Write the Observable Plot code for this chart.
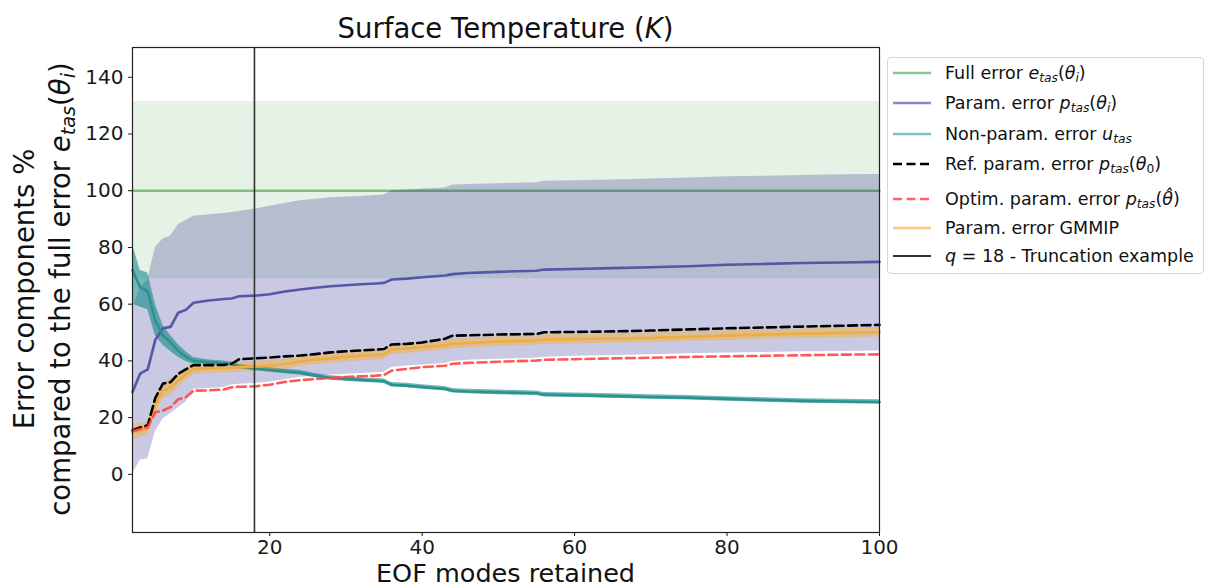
<!DOCTYPE html>
<html><head><meta charset="utf-8">
<script src="https://cdn.jsdelivr.net/npm/d3@7"></script>
<script src="https://cdn.jsdelivr.net/npm/@observablehq/plot@0.6"></script>
<style>
body{margin:0;background:#fff;font-family:"DejaVu Sans",sans-serif;color:#111}
#wrap{position:relative;width:1212px;height:588px;overflow:hidden;background:#fff}
#wrap svg.plot{position:absolute;left:0;top:0}
.s{font-size:70%;vertical-align:-0.28em;line-height:0}
#title{position:absolute;left:132px;width:747px;top:15px;text-align:center;font-size:27.5px;line-height:27.5px;white-space:nowrap}
#xlab{position:absolute;left:132px;width:747px;top:561.8px;text-align:center;font-size:25.5px;line-height:23px;white-space:nowrap}
#ylab{position:absolute;left:6px;top:539px;width:500px;transform:rotate(-90deg);transform-origin:0 0;text-align:center;font-size:27.5px;line-height:36px;white-space:nowrap}
#legend{position:absolute;left:887px;top:57px;width:317px;height:217px;box-sizing:border-box;border:1px solid #d6d6d6;border-radius:4px;background:#fff}
.row{position:absolute;left:5px;height:30px;display:flex;align-items:center;font-size:17.5px;white-space:nowrap}
.row svg{margin-right:14px;flex:none}
</style></head><body>
<div id="wrap"></div>
<script>
// EOF modes retained (x values)
const q = [2,3,4,5,6,7,8,9,10,12,14,15,16,18,20,22,24,26,28,30,32,34,35,36,38,40,43,44,46,50,55,56,60,65,70,75,80,85,90,95,100];
// Param. error p_tas(theta_i): mean and band
const paramMean = [29,35.5,37,47.5,51.5,52,57,58,60.5,61.3,61.8,62,62.8,63,63.5,64.5,65.2,65.8,66.3,66.7,67,67.3,67.5,68.7,69,69.5,70.1,70.6,71,71.4,71.8,72.2,72.4,72.7,73,73.4,73.9,74.2,74.5,74.7,74.9];
const paramLo = [0,5,5.5,15,19.5,21.5,23.5,25.5,30,30.3,30.6,31.5,31.8,32,32.6,33.4,34.2,34.6,35,35.3,35.6,35.8,36,37.7,38.2,38.6,39.1,39.8,40.2,40.6,40.9,41.3,41.6,41.9,42.2,42.5,42.8,43,43.2,43.3,43.5];
const paramHi = [58,66,68.5,80,83,84,88,89.5,91,91.5,92,92.3,92.7,93.5,94.5,95.5,96.5,97,97.5,97.8,98,98.3,98.5,100,100.3,100.6,101,102,102.2,102.5,102.8,103.3,103.5,103.8,104.1,104.5,104.9,105.1,105.4,105.6,105.7];
// Non-param. error u_tas
const uMean = [72,66,64.5,54,49,46.5,43.5,41.5,40,39.5,39.2,38.8,38,37.3,36.8,36.3,35.8,34.8,34,33.6,33.3,33,32.8,31.6,31.3,30.8,30.2,29.5,29.2,28.9,28.6,28.1,27.9,27.6,27.3,27,26.6,26.2,25.9,25.7,25.5];
const uLo = [60,59,58,49,45.5,43.3,41.3,39.8,38.8,38.7,38.4,38,37.2,36.5,36,35.5,35,34,33.2,32.8,32.5,32.2,32,30.8,30.5,30,29.4,28.7,28.4,28.1,27.8,27.3,27.1,26.8,26.5,26.2,25.8,25.4,25.1,24.9,24.7];
const uHi = [81,72,71,60,52.5,49,45.8,43.2,41.2,40.3,40,39.6,38.8,38.1,37.6,37.1,36.6,35.6,34.8,34.4,34.1,33.8,33.6,32.4,32.1,31.6,31,30.3,30,29.7,29.4,28.9,28.7,28.4,28.1,27.8,27.4,27,26.7,26.5,26.3];
// Ref. param. error p_tas(theta_0)
const refErr = [15.6,16.5,17.3,27,32,32.5,35.4,37,38.5,38.5,38.6,39,40.6,40.9,41.2,41.6,41.9,42.4,43,43.4,43.7,44,44.2,45.8,46,46.5,47.8,48.9,49,49.3,49.5,50.1,50.2,50.4,50.7,51.1,51.5,51.8,52.1,52.4,52.7];
// Optim. param. error p_tas(theta_hat)
const optErr = [15.2,16,16.6,21.9,22.5,23.7,26.5,27.2,29.5,29.6,29.9,30.7,30.9,31,31.6,32.6,33.2,33.6,34,34.3,34.6,34.8,35,36.6,37.2,37.8,38.3,39,39.3,39.7,40.1,40.4,40.6,40.9,41.1,41.4,41.6,41.8,42,42.2,42.3];
// Param. error GMMIP
const gmmip = [14.8,15.5,16,24.5,29.5,30.7,33,35.3,37.2,37.3,37.5,37.6,37.8,38,38.4,38.9,39.8,40.5,40.9,41.4,41.8,42.1,42.3,44,44.4,44.9,45.5,46,46.3,46.8,47.2,47.5,47.7,47.9,48.1,48.5,48.9,49.3,49.6,49.9,50.1];
const gmmipLo = [12.3,13,13.5,21.5,26.5,27.9,30.5,33.1,35.2,35.5,35.7,35.8,36,36.2,36.6,37.1,38,38.7,39.1,39.6,40,40.3,40.5,42.2,42.6,43.1,43.8,44.3,44.6,45.1,45.5,45.8,46,46.2,46.4,46.8,47.2,47.6,47.9,48.2,48.4];
const gmmipHi = [17.3,18,18.5,27.5,32.5,33.5,35.5,37.5,39.2,39.1,39.3,39.4,39.6,39.8,40.2,40.7,41.6,42.3,42.7,43.2,43.6,43.9,44.1,45.8,46.2,46.7,47.2,47.7,48,48.5,48.9,49.2,49.4,49.6,49.8,50.2,50.6,51,51.3,51.6,51.8];
// Full error e_tas(theta_i)
const fullQ = [2,100];
const fullMean = [100,100];
const fullLo = [69,69];
const fullHi = [131.5,131.5];
// Truncation example
const truncQ = [18];
// Tick labels
const xTicks = [20,40,60,80,100];
const yTicks = [0,20,40,60,80,100,120,140];

const rows = q.map((v,i)=>({q:v, pm:paramMean[i], plo:paramLo[i], phi:paramHi[i], um:uMean[i], ulo:uLo[i], uhi:uHi[i], ref:refErr[i], opt:optErr[i], g:gmmip[i], glo:gmmipLo[i], ghi:gmmipHi[i]}));
const full = fullQ.map((v,i)=>({q:v, m:fullMean[i], lo:fullLo[i], hi:fullHi[i]}));

const chart = Plot.plot({
  width:1212, height:588,
  marginLeft:132, marginRight:333, marginTop:47, marginBottom:56,
  x:{domain:[2,100], label:null},
  y:{domain:[-20.5,150.5], label:null},
  style:{fontFamily:"DejaVu Sans", fontSize:"20px", color:"#1a1a1a", background:"white"},
  marks:[
    Plot.areaY(full, {x:"q", y1:"lo", y2:"hi", fill:"green", fillOpacity:0.1}),
    Plot.lineY(full, {x:"q", y:"m", stroke:"#008000", strokeOpacity:0.45, strokeWidth:2.6}),
    Plot.areaY(rows, {x:"q", y1:"plo", y2:"phi", fill:"#000080", fillOpacity:0.21}),
    Plot.areaY(rows, {x:"q", y1:"ulo", y2:"uhi", fill:"#008080", fillOpacity:0.55}),
    Plot.areaY(rows, {x:"q", y1:"glo", y2:"ghi", fill:"#ffa500", fillOpacity:0.35}),
    Plot.lineY(rows, {x:"q", y:"pm", stroke:"#5656a8", strokeWidth:2.6}),
    Plot.lineY(rows, {x:"q", y:"um", stroke:"#2b938d", strokeWidth:2.6}),
    Plot.lineY(rows, {x:"q", y:"g", stroke:"#f2ac3c", strokeWidth:2.6}),
    Plot.lineY(rows, {x:"q", y:"ref", stroke:"#000", strokeWidth:2.6, strokeDasharray:"9,4.5"}),
    Plot.lineY(rows, {x:"q", y:"opt", stroke:"#ff4646", strokeOpacity:0.9, strokeWidth:2.6, strokeDasharray:"9,4.5"}),
    Plot.ruleX(truncQ, {stroke:"#333", strokeWidth:1.6}),
    Plot.frame({stroke:"#222", strokeWidth:1.2}),
    Plot.axisX({ticks:xTicks, tickSize:4, tickPadding:3, label:null, fontSize:20}),
    Plot.axisY({ticks:yTicks, tickSize:4, tickPadding:5, label:null, fontSize:20})
  ]
});
chart.classList.add("plot");
const wrap = document.getElementById("wrap");
wrap.appendChild(chart);

const etas = '<i>e</i><span class="s"><i>tas</i></span>(<i>θ</i><span class="s"><i>i</i></span>)';
wrap.insertAdjacentHTML("beforeend",
  '<div id="title">Surface Temperature (<i>K</i>)</div>' +
  '<div id="xlab">EOF modes retained</div>' +
  '<div id="ylab">Error components %<br>compared to the full error ' + etas + '</div>');

const legendItems = [
  {c:"#8cc98c", d:null, w:2.6, t:'Full error ' + etas},
  {c:"#8686c6", d:null, w:2.6, t:'Param. error <i>p</i><span class="s"><i>tas</i></span>(<i>θ</i><span class="s"><i>i</i></span>)'},
  {c:"#7dc3bf", d:null, w:2.6, t:'Non-param. error <i>u</i><span class="s"><i>tas</i></span>'},
  {c:"#000", d:"9,4.5", w:2.6, t:'Ref. param. error <i>p</i><span class="s"><i>tas</i></span>(<i>θ</i><span class="s">0</span>)'},
  {c:"#ff6464", d:"9,4.5", w:2.6, t:'Optim. param. error <i>p</i><span class="s"><i>tas</i></span>(<i>θ̂</i>)'},
  {c:"#fdc97c", d:null, w:2.6, t:'Param. error GMMIP'},
  {c:"#333", d:null, w:2, t:'<i>q</i> = 18 - Truncation example'}
];
const rowCenters = [15,45,76,106,141,170,198];
let lg = '<div id="legend">';
legendItems.forEach((it,i)=>{
  lg += '<div class="row" style="top:' + (rowCenters[i]-15) + 'px"><svg width="38" height="10"><line x1="0" y1="5" x2="38" y2="5" stroke="' + it.c + '" stroke-width="' + it.w + '"' + (it.d ? ' stroke-dasharray="' + it.d + '"' : '') + '/></svg><span>' + it.t + '</span></div>';
});
lg += '</div>';
wrap.insertAdjacentHTML("beforeend", lg);
</script>
</body></html>
